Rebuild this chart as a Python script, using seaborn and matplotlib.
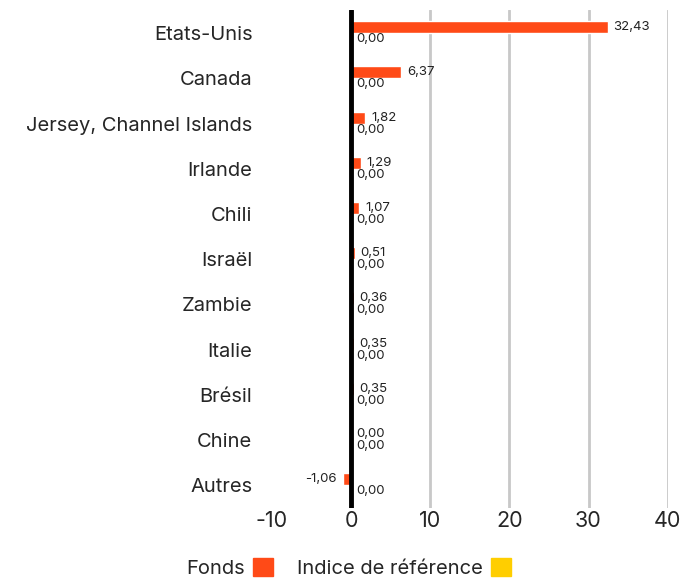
import matplotlib
matplotlib.use('Agg')
import matplotlib.pyplot as plt
import matplotlib.patches as mpatches
import pandas as pd
import seaborn as sns

# Data
pays = ['Etats-Unis', 'Canada', 'Jersey, Channel Islands', 'Irlande', 'Chili',
        'Israël', 'Zambie', 'Italie', 'Brésil', 'Chine', 'Autres']
fonds = [32.43, 6.37, 1.82, 1.29, 1.07, 0.51, 0.36, 0.35, 0.35, 0.00, -1.06]
indice = [0.00] * len(pays)
series = ['Fonds', 'Indice de référence']
couleurs = ['#FF4A17', '#FFCE00']

df = pd.DataFrame({
    'pays': pays * 2,
    'valeur': fonds + indice,
    'serie': [series[0]] * len(pays) + [series[1]] * len(pays),
})

sns.set_style('white')
plt.rcParams['font.family'] = ['Inter', 'DejaVu Sans']

fig = plt.figure(figsize=(6.97, 5.83), dpi=100)
ax = fig.add_axes([0.390, 0.129, 0.568, 0.853])

sns.barplot(data=df, y='pays', x='valeur', hue='serie', orient='h',
            palette=couleurs, width=0.53, ax=ax, legend=False, saturation=1)

fmt = lambda v: f'{v:.2f}'.replace('.', ',')
for cont, vals in zip(ax.containers, [fonds, indice]):
    ax.bar_label(cont, labels=[fmt(v) for v in vals], padding=4,
                 fontsize=9.5, color='#222222')

ax.set_xlim(-10, 40)
ax.set_xticks([-10, 0, 10, 20, 30, 40])
ax.set_xticklabels(['-10', '0', '10', '20', '30', '40'])
ax.grid(axis='x', color='#c8c8c8', lw=2)
ax.get_xgridlines()[0].set_visible(False)
ax.set_axisbelow(True)
ax.axvline(0, color='black', lw=3.5, zorder=5)
sns.despine(ax=ax, left=True, bottom=True)
ax.tick_params(axis='x', length=0, labelsize=15.5, pad=2)
ax.tick_params(axis='y', length=0, labelsize=14.5, pad=14)
ax.set_xlabel('')
ax.set_ylabel('')

handles = [mpatches.Patch(color=c, label=s) for s, c in zip(series, couleurs)]
fig.legend(handles=handles, loc='center', bbox_to_anchor=(0.5, 0.026), ncol=2,
           frameon=False, markerfirst=False, fontsize=14.5, handlelength=1.0,
           handleheight=1.0, handletextpad=0.4, columnspacing=1.2)

fig.savefig('out.png', dpi=100)
